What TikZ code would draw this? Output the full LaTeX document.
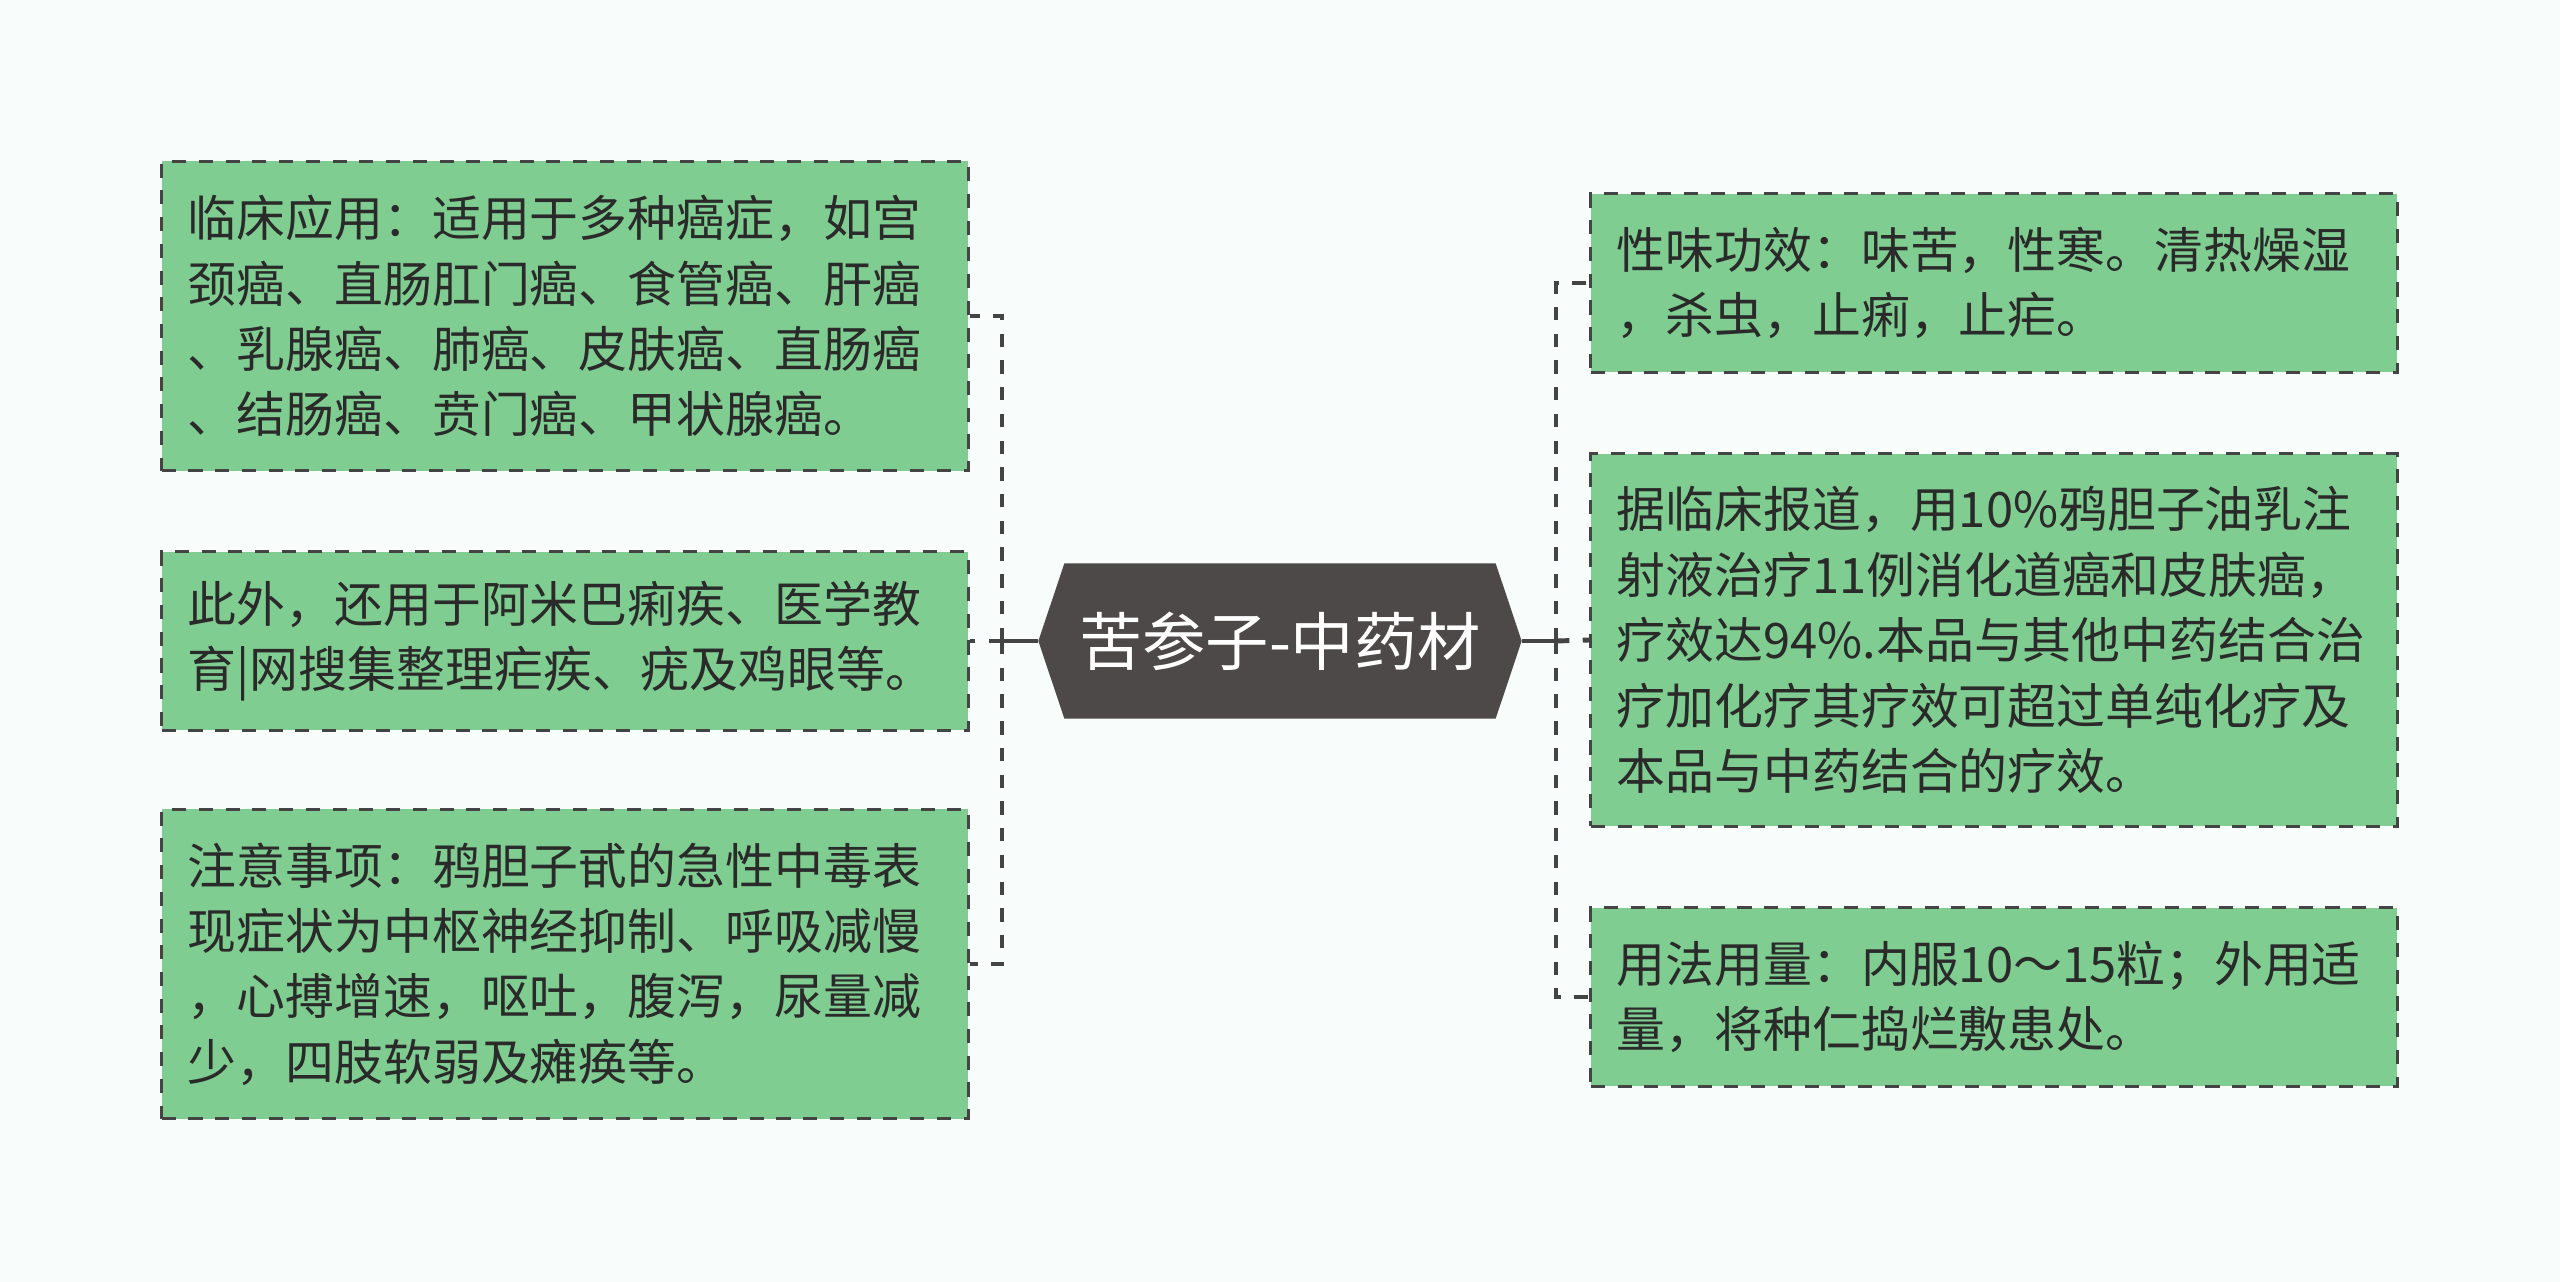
\documentclass[tikz,border=0pt]{standalone}
\usepackage{fontspec}
\setmainfont{Noto Sans CJK SC}
\usepackage{xcolor}
\usepackage{tikz}
\usetikzlibrary{positioning,shapes.symbols}
\definecolor{pagebg}{HTML}{F8FCFB}
\definecolor{leafgreen}{HTML}{7FCD91}
\definecolor{edgegray}{HTML}{444444}
\definecolor{rootgray}{HTML}{4D4949}
\definecolor{inkgray}{HTML}{2A2A2A}
\newcommand{\leaffont}{\fontsize{13.9pt}{18.6pt}\selectfont}
\tikzset{
  leaf/.style ={rectangle, draw=edgegray, fill=leafgreen, line width=0.85pt,
                dash pattern=on 4pt off 3.6pt, minimum width=8.06cm,
                text width=7.54cm, inner sep=0pt, align=left,
                font=\leaffont, text=inkgray},
  root/.style ={signal, signal to=west and east, signal pointer angle=143,
                fill=rootgray, minimum width=4.83cm, minimum height=1.55cm,
                inner sep=0pt, font=\fontsize{18pt}{22pt}\selectfont, text=white},
  con/.style  ={draw=edgegray, line width=1.4pt},
  wk/.style   ={draw=edgegray, line width=1.4pt, dash pattern=on 3.8pt off 3.8pt},
}

\begin{document}
\begin{tikzpicture}[x=0.01cm, y=-0.01cm]
\fill[pagebg] (0,0) rectangle (2560,1282);
\node[root] (hub) at (1280,641) {苦参子-中药材};
\node[leaf, minimum height=3.09cm] (use)   at (565,316)  {临床应用：适用于多种癌症，如宫\\颈癌、直肠肛门癌、食管癌、肝癌\\、乳腺癌、肺癌、皮肤癌、直肠癌\\、结肠癌、贲门癌、甲状腺癌。};
\node[leaf, minimum height=1.78cm] (other) at (565,641)  {此外，还用于阿米巴痢疾、医学教\\育|网搜集整理疟疾、疣及鸡眼等。};
\node[leaf, minimum height=3.09cm] (warn)  at (565,964)  {注意事项：鸦胆子甙的急性中毒表\\现症状为中枢神经抑制、呼吸减慢\\，心搏增速，呕吐，腹泻，尿量减\\少，四肢软弱及瘫痪等。};
\node[leaf, minimum height=1.78cm] (taste) at (1994,283) {性味功效：味苦，性寒。清热燥湿\\，杀虫，止痢，止疟。};
\node[leaf, minimum height=3.72cm] (trial) at (1994,640) {据临床报道，用10\%鸦胆子油乳注\\射液治疗11例消化道癌和皮肤癌，\\疗效达94\%.本品与其他中药结合治\\疗加化疗其疗效可超过单纯化疗及\\本品与中药结合的疗效。};
\node[leaf, minimum height=1.78cm] (dose)  at (1994,997) {用法用量：内服10～15粒；外用适\\量，将种仁捣烂敷患处。};
\coordinate (lj) at (1002,641);
\coordinate (rj) at (1556,641);
\draw[con] (hub.west) -- (lj);
\draw[con] (hub.east) -- (rj);
\draw[wk]  (lj) |- (use.east);
\draw[wk]  (lj) -- (other.east);
\draw[wk]  (lj) |- (warn.east);
\draw[wk]  (rj) |- (taste.west);
\draw[wk]  (rj) -- (trial.west);
\draw[wk]  (rj) |- (dose.west);
\end{tikzpicture}
\end{document}
